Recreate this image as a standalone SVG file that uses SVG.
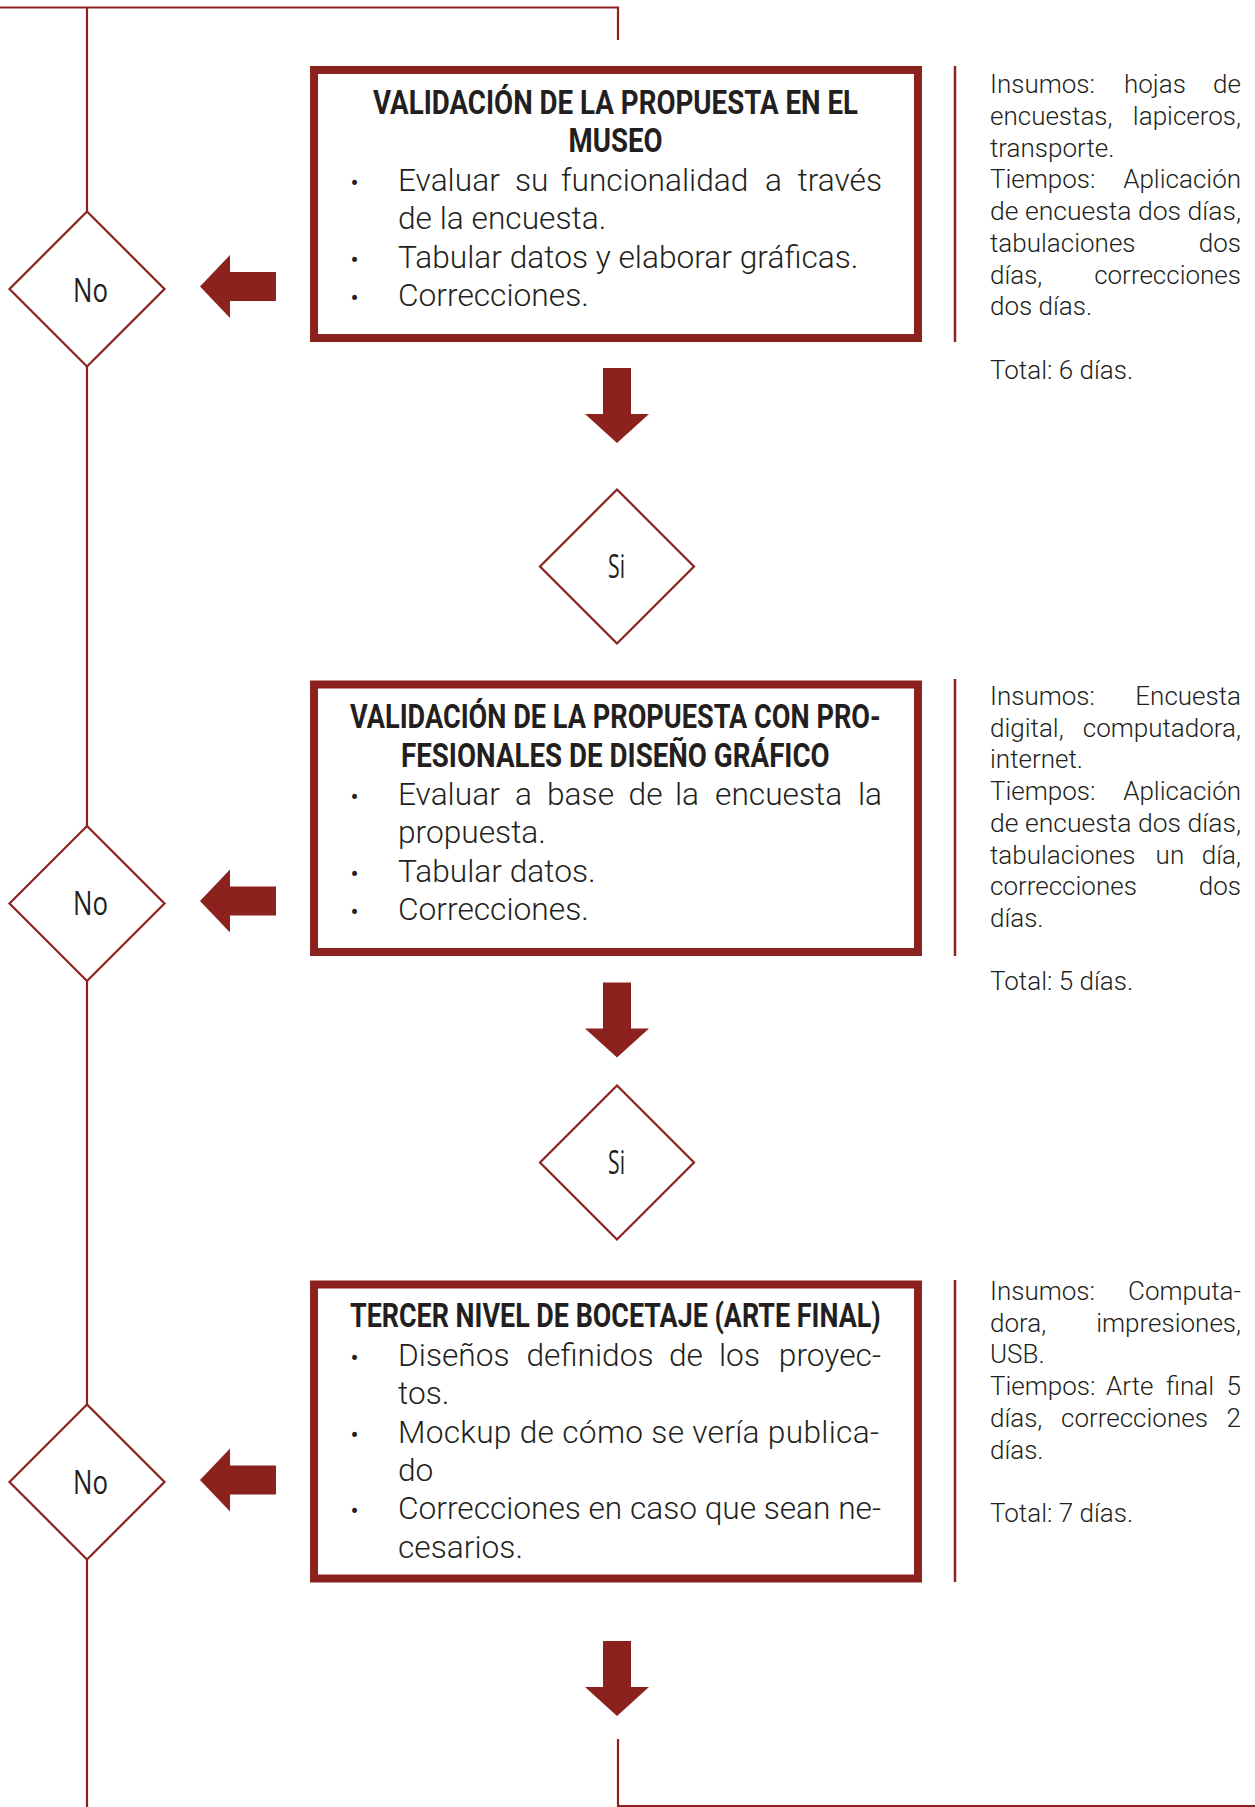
<svg xmlns="http://www.w3.org/2000/svg" width="1255" height="1807" viewBox="0 0 1255 1807">
<style>
.ln{fill:none;stroke:#8c221d;stroke-width:2.2}
.arr{fill:#8c221d}
.dia{fill:#fff;stroke:#8c221d;stroke-width:2.2}
.box{fill:#fff;stroke:#8c221d;stroke-width:8}
.sep{stroke:#8c221d;stroke-width:2.5}
.dl{font-family:"Open Sans","Liberation Sans",sans-serif;font-size:32px;fill:#231f20;text-anchor:middle}
.tt{font-family:Roboto,"Liberation Sans",sans-serif;font-weight:700;font-size:33px;fill:#231f20}
.bt{font-family:Roboto,"Liberation Sans",sans-serif;font-weight:300;font-size:31.7px;fill:#231f20}
.bu{font-family:Roboto,"Liberation Sans",sans-serif;font-size:24px;fill:#231f20;text-anchor:middle}
.rt{font-family:Roboto,"Liberation Sans",sans-serif;font-weight:300;font-size:26px;fill:#231f20}
.e{text-anchor:end}
</style>
<defs>
<path id="la" d="M0,0 L30,-31.5 L30,-14.5 L76,-14.5 L76,14.5 L30,14.5 L30,31.5 Z"/>
<path id="da" d="M0,0 L-32,-29 L-14,-29 L-14,-75 L14,-75 L14,-29 L32,-29 Z"/>
</defs>
<g id="connectors">
<path class="ln" d="M87,7.5 V1807"/>
<path class="ln" d="M0,7.5 H618 V40"/>
<path class="ln" d="M618,1739 V1806 H1255"/>
<use href="#la" class="arr" x="200" y="286.5"/>
<use href="#la" class="arr" x="200" y="901"/>
<use href="#la" class="arr" x="200" y="1480"/>
<use href="#da" class="arr" x="617" y="443"/>
<use href="#da" class="arr" x="617" y="1057.5"/>
<use href="#da" class="arr" x="617" y="1716"/>
</g>
<g id="no1">
<polygon class="dia" points="87,211.5 164.5,289 87,366.5 9.5,289"/>
<text class="dl" x="90.5" y="301.5" textLength="35" lengthAdjust="spacingAndGlyphs">No</text>
</g>
<g id="no2">
<polygon class="dia" points="87,826 164.5,903.5 87,981 9.5,903.5"/>
<text class="dl" x="90.5" y="915" textLength="35" lengthAdjust="spacingAndGlyphs">No</text>
</g>
<g id="no3">
<polygon class="dia" points="87,1404.5 164.5,1482 87,1559.5 9.5,1482"/>
<text class="dl" x="90.5" y="1493.5" textLength="35" lengthAdjust="spacingAndGlyphs">No</text>
</g>
<g id="si1">
<polygon class="dia" points="617,489.5 694,566.5 617,643.5 540,566.5"/>
<text class="dl" x="616.5" y="577.5" textLength="17" lengthAdjust="spacingAndGlyphs">Si</text>
</g>
<g id="si2">
<polygon class="dia" points="617,1085.5 694,1162.5 617,1239.5 540,1162.5"/>
<text class="dl" x="616.5" y="1174" textLength="17" lengthAdjust="spacingAndGlyphs">Si</text>
</g>
<g id="box1">
<rect class="box" x="314" y="70" width="604" height="268"/>
<text class="tt" x="373" y="114" textLength="485" lengthAdjust="spacingAndGlyphs">VALIDACIÓN DE LA PROPUESTA EN EL</text>
<text class="tt" x="568.6" y="152" textLength="94" lengthAdjust="spacingAndGlyphs">MUSEO</text>
<text class="bu" x="354.5" y="191">•</text>
<text class="bu" x="354.5" y="267.6">•</text>
<text class="bu" x="354.5" y="305.9">•</text>
<text class="bt" y="191"><tspan x="398">Evaluar</tspan><tspan x="515">su</tspan><tspan x="561">funcionalidad</tspan><tspan x="765">a</tspan><tspan x="882" class="e">través</tspan></text>
<text class="bt" x="398" y="229.3">de la encuesta.</text>
<text class="bt" x="398" y="267.6">Tabular datos y elaborar gráficas.</text>
<text class="bt" x="398" y="305.9">Correcciones.</text>
</g>
<g id="info1">
<line class="sep" x1="955" y1="66" x2="955" y2="342"/>
<text class="rt" y="93.3"><tspan x="990">Insumos:</tspan><tspan x="1124">hojas</tspan><tspan x="1241" class="e">de</tspan></text>
<text class="rt" y="125"><tspan x="990">encuestas,</tspan><tspan x="1241" class="e">lapiceros,</tspan></text>
<text class="rt" x="990" y="156.7">transporte.</text>
<text class="rt" y="188.4"><tspan x="990">Tiempos:</tspan><tspan x="1241" class="e">Aplicación</tspan></text>
<text class="rt" x="990" y="220.1" textLength="251" lengthAdjust="spacingAndGlyphs">de encuesta dos días,</text>
<text class="rt" y="251.8"><tspan x="990">tabulaciones</tspan><tspan x="1241" class="e">dos</tspan></text>
<text class="rt" y="283.5"><tspan x="990">días,</tspan><tspan x="1241" class="e">correcciones</tspan></text>
<text class="rt" x="990" y="315.2">dos días.</text>
<text class="rt" x="990" y="378.6">Total: 6 días.</text>
</g>
<g id="box2">
<rect class="box" x="314" y="684.5" width="604" height="267.5"/>
<text class="tt" x="350" y="728" textLength="530.7" lengthAdjust="spacingAndGlyphs">VALIDACIÓN DE LA PROPUESTA CON PRO-</text>
<text class="tt" x="401" y="767" textLength="428.7" lengthAdjust="spacingAndGlyphs">FESIONALES DE DISEÑO GRÁFICO</text>
<text class="bu" x="354.5" y="805">•</text>
<text class="bu" x="354.5" y="881.6">•</text>
<text class="bu" x="354.5" y="919.9">•</text>
<text class="bt" y="805"><tspan x="398">Evaluar</tspan><tspan x="515">a</tspan><tspan x="547">base</tspan><tspan x="628.6">de</tspan><tspan x="675">la</tspan><tspan x="715">encuesta</tspan><tspan x="882" class="e">la</tspan></text>
<text class="bt" x="398" y="843.3">propuesta.</text>
<text class="bt" x="398" y="881.6">Tabular datos.</text>
<text class="bt" x="398" y="919.9">Correcciones.</text>
</g>
<g id="info2">
<line class="sep" x1="955" y1="679" x2="955" y2="956"/>
<text class="rt" y="705"><tspan x="990">Insumos:</tspan><tspan x="1241" class="e">Encuesta</tspan></text>
<text class="rt" y="736.7"><tspan x="990">digital,</tspan><tspan x="1241" class="e">computadora,</tspan></text>
<text class="rt" x="990" y="768.4">internet.</text>
<text class="rt" y="800"><tspan x="990">Tiempos:</tspan><tspan x="1241" class="e">Aplicación</tspan></text>
<text class="rt" x="990" y="831.8" textLength="251" lengthAdjust="spacingAndGlyphs">de encuesta dos días,</text>
<text class="rt" y="863.5"><tspan x="990">tabulaciones</tspan><tspan x="1155.6">un</tspan><tspan x="1241" class="e">día,</tspan></text>
<text class="rt" y="895.2"><tspan x="990">correcciones</tspan><tspan x="1241" class="e">dos</tspan></text>
<text class="rt" x="990" y="926.9">días.</text>
<text class="rt" x="990" y="990.3">Total: 5 días.</text>
</g>
<g id="box3">
<rect class="box" x="314" y="1284.5" width="604" height="294"/>
<text class="tt" x="350" y="1327" textLength="530.7" lengthAdjust="spacingAndGlyphs">TERCER NIVEL DE BOCETAJE (ARTE FINAL)</text>
<text class="bu" x="354.5" y="1366">•</text>
<text class="bu" x="354.5" y="1442.6">•</text>
<text class="bu" x="354.5" y="1519.2">•</text>
<text class="bt" y="1366"><tspan x="398">Diseños</tspan><tspan x="526.5">definidos</tspan><tspan x="669">de</tspan><tspan x="719">los</tspan><tspan x="881" class="e">proyec-</tspan></text>
<text class="bt" x="398" y="1404.3">tos.</text>
<text class="bt" x="398" y="1442.6" textLength="481" lengthAdjust="spacing">Mockup de cómo se vería publica-</text>
<text class="bt" x="398" y="1480.9">do</text>
<text class="bt" x="398" y="1519.2" textLength="483" lengthAdjust="spacing">Correcciones en caso que sean ne-</text>
<text class="bt" x="398" y="1557.5">cesarios.</text>
</g>
<g id="info3">
<line class="sep" x1="955" y1="1280" x2="955" y2="1582"/>
<text class="rt" y="1300"><tspan x="990">Insumos:</tspan><tspan x="1241" class="e">Computa-</tspan></text>
<text class="rt" y="1331.7"><tspan x="990">dora,</tspan><tspan x="1241" class="e">impresiones,</tspan></text>
<text class="rt" x="990" y="1363.4">USB.</text>
<text class="rt" y="1395.1"><tspan x="990">Tiempos:</tspan><tspan x="1106">Arte</tspan><tspan x="1166">final</tspan><tspan x="1241" class="e">5</tspan></text>
<text class="rt" y="1426.8"><tspan x="990">días,</tspan><tspan x="1061">correcciones</tspan><tspan x="1241" class="e">2</tspan></text>
<text class="rt" x="990" y="1458.5">días.</text>
<text class="rt" x="990" y="1521.9">Total: 7 días.</text>
</g>
</svg>
